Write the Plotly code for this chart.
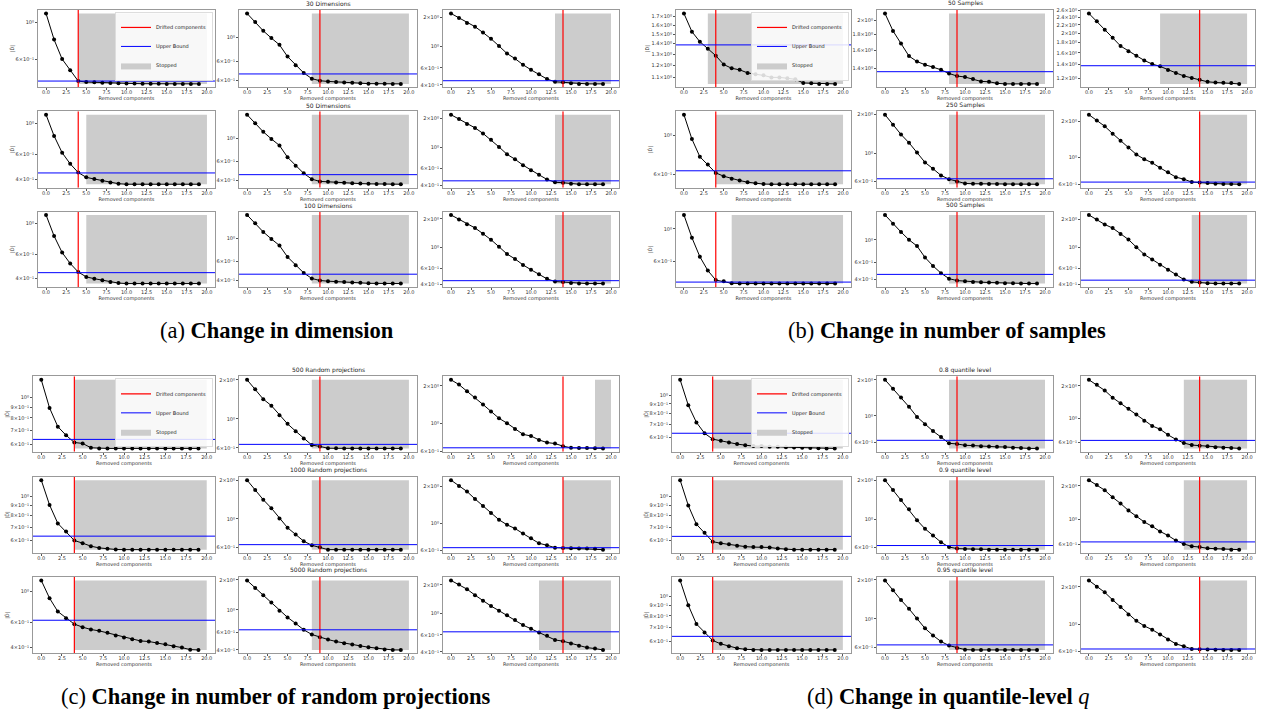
import math
import plotly.graph_objects as go

# ---------------- data ----------------
X = list(range(20))
X_TICKS = [0, 2.5, 5, 7.5, 10, 12.5, 15, 17.5, 20]
X_TICK_LABELS = ["0.0", "2.5", "5.0", "7.5", "10.0", "12.5", "15.0", "17.5", "20.0"]
DRIFT_POS = [4, 9, 14]  # red line per column

# (a) change in dimension
a11 = [1.13, 0.79, 0.605, 0.52, 0.448, 0.442, 0.440, 0.437, 0.436, 0.435, 0.433, 0.433, 0.432, 0.432, 0.432, 0.431, 0.431, 0.431, 0.431, 0.431]
a12 = [1.68, 1.40, 1.157, 0.99, 0.857, 0.665, 0.553, 0.468, 0.414, 0.396, 0.39, 0.385, 0.382, 0.379, 0.376, 0.372, 0.371, 0.371, 0.370, 0.370]
a13 = [2.19, 1.97, 1.75, 1.60, 1.39, 1.20, 1.01, 0.844, 0.748, 0.647, 0.573, 0.515, 0.46, 0.431, 0.425, 0.415, 0.41, 0.41, 0.41, 0.41]
a21 = [1.155, 0.814, 0.617, 0.514, 0.445, 0.411, 0.40, 0.389, 0.377, 0.37, 0.367, 0.367, 0.367, 0.367, 0.367, 0.367, 0.367, 0.367, 0.367, 0.367]
a22 = [1.67, 1.39, 1.15, 0.985, 0.855, 0.66, 0.55, 0.465, 0.41, 0.39, 0.387, 0.382, 0.378, 0.375, 0.372, 0.37, 0.368, 0.368, 0.367, 0.367]
a23 = [2.2, 1.98, 1.76, 1.6, 1.4, 1.2, 1.01, 0.845, 0.75, 0.65, 0.575, 0.515, 0.46, 0.43, 0.425, 0.415, 0.41, 0.41, 0.41, 0.41]
a31 = [1.15, 0.81, 0.615, 0.513, 0.445, 0.41, 0.398, 0.388, 0.376, 0.37, 0.367, 0.367, 0.367, 0.367, 0.367, 0.367, 0.367, 0.367, 0.367, 0.367]
a32 = [1.68, 1.40, 1.155, 0.99, 0.857, 0.665, 0.553, 0.468, 0.414, 0.396, 0.39, 0.385, 0.382, 0.379, 0.376, 0.372, 0.371, 0.371, 0.370, 0.370]
a33 = [2.2, 1.97, 1.75, 1.6, 1.39, 1.2, 1.01, 0.845, 0.75, 0.648, 0.575, 0.515, 0.46, 0.431, 0.425, 0.415, 0.41, 0.41, 0.41, 0.41]
a_upper = [[0.448, 0.458, 0.442], [0.442, 0.452, 0.445], [0.44, 0.455, 0.44]]
a_stop = [[4, 8, 13], [5, 8, 13], [5, 8, 13]]
a_titles = ["30 Dimensions", "50 Dimensions", "100 Dimensions"]

# (b) change in number of samples
b11 = [1.738, 1.526, 1.42, 1.35, 1.285, 1.206, 1.174, 1.161, 1.136, 1.125, 1.116, 1.10, 1.10, 1.093, 1.085, 1.057, 1.055, 1.05, 1.05, 1.05]
b12 = [2.10, 1.845, 1.68, 1.53, 1.47, 1.435, 1.41, 1.382, 1.345, 1.32, 1.31, 1.29, 1.268, 1.265, 1.25, 1.245, 1.245, 1.245, 1.245, 1.245]
b13 = [2.50, 2.29, 2.08, 1.90, 1.73, 1.63, 1.55, 1.47, 1.41, 1.374, 1.32, 1.276, 1.233, 1.205, 1.18, 1.154, 1.145, 1.14, 1.138, 1.127]
b21 = [1.305, 0.949, 0.753, 0.681, 0.61, 0.584, 0.565, 0.552, 0.54, 0.533, 0.527, 0.526, 0.526, 0.526, 0.526, 0.526, 0.526, 0.526, 0.526, 0.526]
b22 = [2.0, 1.67, 1.40, 1.205, 1.01, 0.845, 0.754, 0.668, 0.625, 0.60, 0.578, 0.575, 0.574, 0.573, 0.572, 0.571, 0.571, 0.57, 0.57, 0.57]
b23 = [2.27, 2.03, 1.82, 1.58, 1.38, 1.21, 1.06, 0.969, 0.904, 0.821, 0.756, 0.687, 0.661, 0.625, 0.62, 0.613, 0.605, 0.603, 0.602, 0.60]
b31 = [1.24, 0.871, 0.648, 0.523, 0.451, 0.442, 0.429, 0.427, 0.427, 0.427, 0.427, 0.427, 0.427, 0.427, 0.427, 0.427, 0.427, 0.427, 0.427, 0.427]
b32 = [1.77, 1.444, 1.197, 1.0, 0.867, 0.667, 0.549, 0.465, 0.41, 0.392, 0.386, 0.38, 0.378, 0.375, 0.372, 0.369, 0.368, 0.367, 0.366, 0.366]
b33 = [2.24, 2.0, 1.77, 1.62, 1.40, 1.22, 1.01, 0.842, 0.745, 0.654, 0.578, 0.512, 0.453, 0.428, 0.42, 0.414, 0.41, 0.41, 0.41, 0.41]
b_upper = [[1.388, 1.363, 1.384], [0.627, 0.629, 0.625], [0.437, 0.452, 0.446]]
b_stop = [[3, 8, 9], [4, 8, 14], [6, 8, 13]]
b_titles = ["50 Samples", "250 Samples", "500 Samples"]

# (c) change in number of random projections
c11 = [1.21, 0.892, 0.728, 0.663, 0.613, 0.607, 0.579, 0.575, 0.575, 0.575, 0.575, 0.575, 0.575, 0.575, 0.575, 0.575, 0.575, 0.575, 0.575, 0.575]
c12 = [2.0, 1.69, 1.42, 1.265, 1.066, 0.916, 0.805, 0.707, 0.629, 0.614, 0.595, 0.594, 0.593, 0.593, 0.593, 0.593, 0.593, 0.593, 0.593, 0.593]
c13 = [2.24, 2.05, 1.81, 1.617, 1.42, 1.25, 1.10, 1.006, 0.902, 0.818, 0.794, 0.738, 0.703, 0.69, 0.658, 0.638, 0.637, 0.636, 0.632, 0.631]
c21 = [1.204, 0.904, 0.731, 0.666, 0.60, 0.582, 0.562, 0.551, 0.545, 0.541, 0.54, 0.54, 0.54, 0.54, 0.54, 0.54, 0.54, 0.54, 0.54, 0.54]
c22 = [2.0, 1.68, 1.41, 1.213, 1.01, 0.855, 0.758, 0.672, 0.625, 0.603, 0.578, 0.578, 0.578, 0.578, 0.578, 0.578, 0.578, 0.578, 0.578, 0.578]
c23 = [2.24, 2.01, 1.81, 1.574, 1.38, 1.21, 1.065, 0.969, 0.904, 0.822, 0.753, 0.685, 0.66, 0.631, 0.628, 0.625, 0.622, 0.621, 0.618, 0.608]
c31 = [1.2, 0.896, 0.719, 0.644, 0.584, 0.556, 0.535, 0.523, 0.506, 0.484, 0.469, 0.456, 0.443, 0.439, 0.429, 0.42, 0.406, 0.397, 0.384, 0.382]
c32 = [1.97, 1.66, 1.40, 1.185, 0.985, 0.844, 0.735, 0.635, 0.57, 0.536, 0.508, 0.485, 0.467, 0.453, 0.439, 0.426, 0.417, 0.403, 0.40, 0.40]
c33 = [2.22, 2.01, 1.80, 1.56, 1.36, 1.20, 1.075, 0.961, 0.859, 0.76, 0.696, 0.637, 0.588, 0.533, 0.517, 0.489, 0.462, 0.443, 0.433, 0.419]
c_upper = [[0.634, 0.637, 0.638], [0.631, 0.632, 0.631], [0.623, 0.635, 0.647]]
c_stop = [[4, 8, 18], [4, 8, 14], [4, 8, 11]]
c_titles = ["500 Random projections", "1000 Random projections", "5000 Random projections"]

# (d) change in quantile-level q
d11 = [1.2, 0.885, 0.72, 0.632, 0.589, 0.577, 0.566, 0.555, 0.548, 0.542, 0.542, 0.538, 0.538, 0.535, 0.533, 0.531, 0.53, 0.528, 0.527, 0.527]
d12 = [2.0, 1.68, 1.42, 1.19, 0.98, 0.853, 0.746, 0.665, 0.59, 0.583, 0.568, 0.565, 0.558, 0.555, 0.551, 0.55, 0.543, 0.54, 0.535, 0.535]
d13 = [2.27, 2.04, 1.81, 1.554, 1.38, 1.23, 1.088, 0.952, 0.851, 0.794, 0.705, 0.639, 0.592, 0.567, 0.56, 0.552, 0.541, 0.535, 0.532, 0.528]
d21 = [1.2, 0.898, 0.724, 0.656, 0.593, 0.582, 0.575, 0.565, 0.56, 0.557, 0.557, 0.555, 0.548, 0.543, 0.541, 0.541, 0.541, 0.541, 0.541, 0.541]
d22 = [2.0, 1.68, 1.406, 1.19, 0.98, 0.841, 0.746, 0.662, 0.608, 0.591, 0.588, 0.585, 0.583, 0.58, 0.58, 0.58, 0.58, 0.58, 0.58, 0.58]
d23 = [2.25, 2.04, 1.83, 1.58, 1.395, 1.206, 1.072, 0.953, 0.871, 0.785, 0.722, 0.651, 0.607, 0.578, 0.57, 0.555, 0.551, 0.548, 0.54, 0.54]
d31 = [1.2, 0.905, 0.73, 0.663, 0.605, 0.582, 0.567, 0.554, 0.547, 0.543, 0.543, 0.543, 0.543, 0.543, 0.543, 0.543, 0.543, 0.543, 0.543, 0.543]
d32 = [1.98, 1.66, 1.398, 1.197, 1.01, 0.846, 0.746, 0.67, 0.624, 0.598, 0.58, 0.577, 0.577, 0.577, 0.577, 0.577, 0.577, 0.577, 0.577, 0.577]
d33 = [2.26, 2.01, 1.81, 1.574, 1.38, 1.20, 1.065, 0.969, 0.904, 0.828, 0.753, 0.694, 0.664, 0.631, 0.628, 0.625, 0.623, 0.62, 0.62, 0.62]
d_upper = [[0.632, 0.625, 0.626], [0.63, 0.624, 0.633], [0.634, 0.631, 0.631]]
d_stop = [[4, 8, 12], [4, 8, 12], [4, 8, 14]]
d_titles = ["0.8 quantile level", "0.9 quantile level", "0.95 quantile level"]

CAPTIONS = [
    "(a) <b>Change in dimension</b>",
    "(b) <b>Change in number of samples</b>",
    "(c) <b>Change in number of random projections</b>",
    "(d) <b>Change in quantile-level</b> <i>q</i>",
]

# ---------------- layout geometry (pixels) ----------------
W, H = 1262, 715
PANEL_COLS = [
    [(38, 215), (239, 417), (443, 619)],
    [(676, 851), (877, 1053), (1081, 1255)],
    [(33, 215), (239, 417), (443, 619)],
    [(672, 851), (877, 1053), (1081, 1255)],
]
PANEL_ROWS = [
    [(7, 85), (109, 186), (210, 286)],
    [(7, 85), (109, 186), (210, 286)],
    [(376, 452), (477, 554), (578, 655)],
    [(376, 452), (477, 554), (578, 655)],
]
CAPTION_POS = [(277, 330), (947, 330), (275, 698), (948, 698)]

panels = [
    ([[a11, a12, a13], [a21, a22, a23], [a31, a32, a33]], a_upper, a_stop, a_titles),
    ([[b11, b12, b13], [b21, b22, b23], [b31, b32, b33]], b_upper, b_stop, b_titles),
    ([[c11, c12, c13], [c21, c22, c23], [c31, c32, c33]], c_upper, c_stop, c_titles),
    ([[d11, d12, d13], [d21, d22, d23], [d31, d32, d33]], d_upper, d_stop, d_titles),
]

FONT = "DejaVu Sans"
TICKFONT = dict(family=FONT, size=5, color="#333")
SUP = str.maketrans("0123456789-", "\u2070\u00b9\u00b2\u00b3\u2074\u2075\u2076\u2077\u2078\u2079\u207b")


def fmt(coef, e):
    es = str(e).translate(SUP)
    if abs(coef - 1) < 1e-9:
        return f"10{es}"
    cs = f"{coef:.2f}".rstrip("0").rstrip(".")
    return f"{cs}\u00d710{es}"


def log_ticks(lo, hi):
    """matplotlib-like log tick placement and labelling"""
    numdec = hi - lo
    cands = []
    for e in range(math.floor(lo) - 1, math.ceil(hi) + 1):
        for mm in range(1, 10):
            v = mm * 10.0 ** e
            if lo <= math.log10(v) <= hi:
                cands.append((v, mm, e))
    vals, texts = [], []
    if len(cands) <= 1:
        vmin, vmax = 10 ** lo, 10 ** hi
        raw = (vmax - vmin) / 9
        mag = 10 ** math.floor(math.log10(raw))
        step = next(s * mag for s in (1, 2, 2.5, 5, 10) if s * mag >= raw * 0.999)
        t = math.ceil(vmin / step - 1e-9) * step
        while t <= vmax + 1e-12:
            e = math.floor(math.log10(t) + 1e-9)
            vals.append(t)
            texts.append(fmt(round(t / 10 ** e, 3), e))
            t += step
    else:
        if numdec > 1:
            keep = {1}
        elif numdec > 0.4:
            keep = {1, 2, 3, 4, 6}
        else:
            keep = set(range(1, 10))
        for v, mm, e in cands:
            if mm in keep:
                vals.append(v)
                texts.append(fmt(mm, e))
    return vals, texts


fig = go.Figure()
lay = {}
legend_ids = ["legend", "legend2", "legend3", "legend4"]
annotations = []
k = 0
for p, (series, upper, stop, titles) in enumerate(panels):
    leg = legend_ids[p]
    for r in range(3):
        for c in range(3):
            k += 1
            xa = "x" if k == 1 else f"x{k}"
            ya = "y" if k == 1 else f"y{k}"
            xkey = "xaxis" if k == 1 else f"xaxis{k}"
            ykey = "yaxis" if k == 1 else f"yaxis{k}"
            y = series[r][c]
            ub = upper[r][c]
            st = stop[r][c]
            rd = DRIFT_POS[c]
            first = (r == 0 and c == 0)

            lo_d = math.log10(min(min(y), ub))
            hi_d = math.log10(max(max(y), ub))
            m = 0.05 * (hi_d - lo_d)
            rng = [lo_d - m, hi_d + m]

            ymin, ymax = min(y), max(y)
            fig.add_trace(go.Scatter(
                x=[st, 20, 20, st, st], y=[ymin, ymin, ymax, ymax, ymin],
                fill="toself", fillcolor="#cccccc", mode="lines",
                line=dict(width=0, color="#cccccc"),
                name="Stopped", showlegend=first, legend=leg, legendrank=3,
                xaxis=xa, yaxis=ya, hoverinfo="skip"))
            fig.add_trace(go.Scatter(
                x=X, y=y, mode="lines+markers",
                line=dict(color="black", width=1),
                marker=dict(color="black", size=4),
                showlegend=False, xaxis=xa, yaxis=ya))
            fig.add_trace(go.Scatter(
                x=[rd, rd], y=[10 ** rng[0], 10 ** rng[1]], mode="lines",
                line=dict(color="red", width=1.2),
                name="Drifted components", showlegend=first, legend=leg, legendrank=1,
                xaxis=xa, yaxis=ya, hoverinfo="skip"))
            fig.add_trace(go.Scatter(
                x=[-1, 21], y=[ub, ub], mode="lines",
                line=dict(color="blue", width=1),
                name="Upper Bound", showlegend=first, legend=leg, legendrank=2,
                xaxis=xa, yaxis=ya, hoverinfo="skip"))

            x0, x1 = PANEL_COLS[p][c]
            t0, t1 = PANEL_ROWS[p][r]
            tv, tt = log_ticks(rng[0], rng[1])
            lay[xkey] = dict(
                domain=[x0 / W, x1 / W], anchor=ya, range=[-1, 21],
                tickvals=X_TICKS, ticktext=X_TICK_LABELS, ticks="outside",
                ticklen=2, tickwidth=0.6, tickcolor="#555", tickfont=TICKFONT,
                ticklabelstandoff=-2,
                showline=True, mirror=True, linecolor="#999", linewidth=1,
                showgrid=False, zeroline=False,
                title=dict(text="Removed components", font=dict(family=FONT, size=5, color="#333"), standoff=0),
            )
            ydict = dict(
                domain=[1 - t1 / H, 1 - t0 / H], anchor=xa, type="log", range=rng,
                tickvals=tv, ticktext=tt, ticks="outside",
                ticklen=2, tickwidth=0.6, tickcolor="#555", tickfont=TICKFONT,
                showline=True, mirror=True, linecolor="#999", linewidth=1,
                showgrid=False, zeroline=False,
            )
            if c == 0:
                ydict["title"] = dict(text="|D\u0302|", font=dict(family=FONT, size=5, color="#333"), standoff=0)
            lay[ykey] = ydict
            if c == 1:
                annotations.append(dict(
                    text=titles[r], xref="paper", yref="paper",
                    x=(x0 + x1) / 2 / W, y=1 - (t0 - 0.5) / H,
                    xanchor="center", yanchor="bottom", showarrow=False,
                    font=dict(family=FONT, size=6, color="#222")))
    # legend for the panel
    cx0, cx1 = PANEL_COLS[p][0]
    ct0, _ = PANEL_ROWS[p][0]
    lay[leg] = dict(
        x=(cx1 - 2) / W, y=1 - (ct0 + 2) / H, xanchor="right", yanchor="top",
        xref="paper", yref="paper",
        bgcolor="rgba(255,255,255,0.85)", bordercolor="#dddddd", borderwidth=1,
        font=dict(family=FONT, size=5, color="#222"),
        itemwidth=30, tracegroupgap=0)

for i, cap in enumerate(CAPTIONS):
    cx, cy = CAPTION_POS[i]
    annotations.append(dict(
        text=cap, xref="paper", yref="paper", x=cx / W, y=1 - cy / H,
        xanchor="center", yanchor="middle", showarrow=False,
        font=dict(family="Liberation Serif", size=22.5, color="black")))

fig.update_layout(
    width=W, height=H, margin=dict(l=0, r=0, t=0, b=0),
    paper_bgcolor="white", plot_bgcolor="white",
    annotations=annotations, **lay)

fig.write_html("out.html")
